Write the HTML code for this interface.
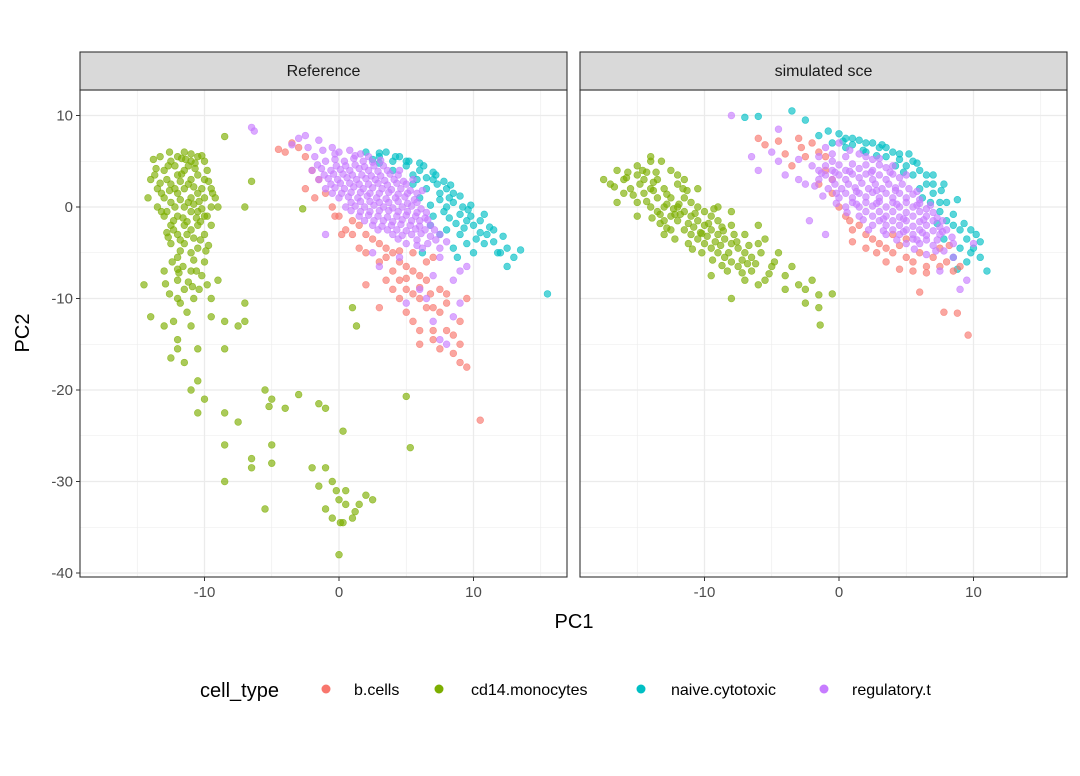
<!DOCTYPE html>
<html><head><meta charset="utf-8"><style>
body{margin:0;background:#fff;font-family:"Liberation Sans",sans-serif}
svg text{font-family:"Liberation Sans",sans-serif}
</style></head><body>
<svg id="chart" width="1080" height="771" viewBox="0 0 1080 771" xmlns="http://www.w3.org/2000/svg">
<rect width="1080" height="771" fill="#fff"/>
<g id="panels"></g>
<g id="points"></g>
<g id="frames"></g>
<text x="574" y="628" font-size="20" text-anchor="middle" fill="#000">PC1</text>
<text transform="translate(29,333) rotate(-90)" font-size="20" text-anchor="middle" fill="#000">PC2</text>
<g>
<text x="200" y="697" font-size="20" fill="#000">cell_type</text>
<circle cx="326" cy="689" r="4.5" fill="#F8766D"/>
<text x="354" y="695" font-size="16" fill="#000">b.cells</text>
<circle cx="439" cy="689" r="4.5" fill="#7CAE00"/>
<text x="471" y="695" font-size="16" fill="#000">cd14.monocytes</text>
<circle cx="641" cy="689" r="4.5" fill="#00BFC4"/>
<text x="671" y="695" font-size="16" fill="#000">naive.cytotoxic</text>
<circle cx="824" cy="689" r="4.5" fill="#C77CFF"/>
<text x="852" y="695" font-size="16" fill="#000">regulatory.t</text>
</g>
</svg>
<script>
const xTicks=[-10,0,10];
const xMinor=[-15,-5,5,15];
const yTicks=[10,0,-10,-20,-30,-40];
const yMinor=[5,-5,-15,-25,-35];
const panelTitles=["Reference","simulated sce"];

const refNaive=[[2,6],[3,5.5],[4,5],[5,4.5],[4.5,5.5],[6,4],[5.5,3.5],[7,3],[6.5,2],[7.5,1.5],[8,2],[8.5,0.5],[7.8,-0.5],[9,-0.8],[9.5,-1.5],[10,-2],[10.5,-2.8],[11,-3],[10.8,-4],[11.5,-3.8],[12,-5],[12.5,-4.5],[13,-5.5],[13.5,-4.7],[12.5,-6.5],[15.5,-9.5],[9.5,-4],[8.5,-4.5],[7,-1],[8,-2.5],[6,1],[6.8,0.2],[5.5,2.5],[4,4],[3,4.8],[6.5,3.2],[7.3,2.5],[8.2,1],[9.2,0],[9.8,-1],[10.2,-3.5],[11.2,-2.2],[9,-3],[8.8,-5.5],[11.8,-5],[10.5,-1.5],[5,5],[6,4.8],[7,3.8],[3.5,6],[2.5,5.2],[8,0],[8.7,-1.8],[7.5,-3],[6.2,-5],[9.3,-2.3],[10,-5],[7.8,2.8],[8.5,1.5],[9.6,-0.3],[5.8,3],[3,5.9],[4.2,5.5],[5.2,5],[6.3,4.5],[7.2,3.5],[8.3,2.4],[9,1.2],[9.8,0.2],[10.8,-0.8],[11.5,-2.5],[12.2,-3.2],[7.5,0.8],[6.8,-2],[8.2,-1.2]];
const refB=[[-4.5,6.3],[-4,6],[-3.5,7],[-3,6.5],[-2.5,5.5],[-2,4],[-1.5,3],[-1,1.5],[-0.5,0],[0,-1],[0.5,-2.5],[1,-3],[1.5,-2],[2,-3],[2.5,-3.5],[3,-4],[3.5,-4.5],[4,-5],[4.5,-6],[5,-6.5],[5.5,-7],[6,-7.5],[6.5,-8],[4,-7],[4.5,-8],[5,-9],[5.5,-9.5],[6,-10],[6.5,-11],[7,-11],[7.5,-11.5],[5,-11.5],[4.5,-10],[4,-9],[3.5,-8],[5.5,-12.5],[6,-13.5],[7,-13.5],[8,-13.5],[8.5,-14],[9,-15],[8.5,-16],[9,-17],[9.5,-17.5],[7.5,-15.5],[10.5,-23.3],[3,-11],[2,-8.5],[6,-15],[7,-14.5],[8,-9.5],[9,-12.5],[6.5,-6],[7,-5.5],[3,-6],[2,-5],[1.5,-4.5],[0.2,-3],[-0.3,-1],[1,-1.5],[5.5,-5],[8,-10.5],[9.5,-10],[7.5,-9],[-2.5,2],[-1.8,1],[3.5,-5.5],[4.5,-4.8],[5,-7.8],[6,-8.8],[6.8,-9.5]];
const refMono=[[-14,3],[-13.5,2],[-13,4],[-12.5,5],[-12,5.5],[-11.5,6],[-11,5],[-10.5,5.5],[-10,5],[-13.5,0],[-13,1],[-12.5,2.5],[-12,3.5],[-11.5,4],[-11,3],[-10.5,3.5],[-10,3],[-9.5,2],[-13,-1],[-12.5,0.5],[-12,1.5],[-11.5,2],[-11,1],[-10.5,1.5],[-10,1],[-9.5,0],[-12.5,-2],[-12,-1],[-11.5,0],[-11,-0.5],[-10.5,-0.5],[-10,-1],[-9.5,-2],[-12,-3],[-11.5,-2],[-11,-2.5],[-10.5,-2],[-10,-3],[-12.5,-4],[-11.5,-4],[-10.5,-4.5],[-11,-5],[-12,-5.5],[-10,-6],[-12.8,3],[-11.8,2.8],[-10.8,2.2],[-9.8,4],[-13.2,-0.5],[-12.2,0],[-11.2,0.5],[-10.2,-0.2],[-11.6,-1.2],[-10.6,-1.2],[-12.2,4.5],[-11.2,4.5],[-13.6,4.2],[-9.2,1],[-14.2,1],[-13.8,5.2],[-12.4,-6],[-11,-7],[-10.2,-7.5],[-12,-8],[-11.5,-9],[-10.8,-10],[-12.6,-9.5],[-11.3,-11.5],[-12.3,-12.5],[-11,-13],[-10.5,-15.5],[-12,-14.5],[-12.6,1.8],[-11.7,3.6],[-10.7,4.2],[-12.8,-2.8],[-11.8,-3.6],[-10.8,-3.4],[-9.7,-4.2],[-13.3,2.6],[-10.4,0.6],[-11.4,5.2],
[-13.7,3.5],[-12.7,4.5],[-11.7,5.3],[-10.7,4.8],[-9.7,2.8],[-13.2,1.5],[-12.2,2],[-11.2,2.5],[-10.2,2],[-9.4,1.5],[-12.8,-0.5],[-11.8,0.8],[-10.8,0.3],[-9.8,-1],[-12.3,-1.5],[-11.3,-1.6],[-10.3,-1.6],[-12.3,-2.5],[-11.3,-3],[-10.3,-3.6],[-11.8,-4.8],[-10.8,-5.8],[-11.6,-6.5],[-10.6,-7],[-11.2,-8.2],[-10.4,-9],[-12,-6.8],[-11.8,-10.5],[-13.3,5.5],[-12.6,6],[-11,5.8],[-10.2,5.6],[-9.9,-4.8],[-12.7,-3.3],[-11.9,-7.2],[-10.9,-8.7],[-9.8,-8.5],[-12.9,-8.4],
[-8.5,7.7],[-6.5,2.8],[-9,0],[-7,0],[-5.5,-20],[-5,-21],[-4,-22],[-3,-20.5],[-1.5,-21.5],[-1,-22],[0.3,-24.5],[-8.5,-22.5],[-7.5,-23.5],[-6.5,-27.5],[-6.5,-28.5],[-5,-26],[-5,-28],[-5.5,-33],[-8.5,-30],[-8.5,-26],[-2,-28.5],[-1,-28.5],[-0.5,-30],[-0.2,-31],[0,-32],[0.5,-32.5],[-0.5,-34],[0.1,-34.5],[0.3,-34.5],[1.5,-32.5],[1,-34],[1.2,-33.3],[-1,-33],[0,-38],[2,-31.5],[2.5,-32],[-1.5,-30.5],[0.5,-31],[-5.2,-21.8],[-2.7,-0.2],[1,-11],[1.3,-13],[5,-20.7],[5.3,-26.3],[-7,-10.5],[-7,-12.5],[-8.5,-12.5],[-7.5,-13],[-9,-8],[-8.5,-15.5],[-14,-12],[-14.5,-8.5],[-13,-13],[-12.5,-16.5],[-12,-15.5],[-11,-20],[-10.5,-22.5],[-10,-21],[-10.5,-19],[-11.5,-17],[-9.5,-10],[-12,-10],[-13,-7],[-9.5,-12]];
const refReg=[[0,6],[0.8,6.2],[1.6,5.8],[-0.5,6.5],[-1.5,7.3],[-2.5,7.8],[-3,7.5],[-6.5,8.7],[-6.3,8.3],[-3.5,6.8],[-1,5],[-0.3,5.2],[0.4,5],[1.1,5.3],[1.8,5],[2.5,4.9],[3.1,5.1],[-1.8,5.5],[-2,4],[-1.3,4.2],[-0.6,4],[0.1,4.1],[0.8,4],[1.5,4.2],[2.2,4],[2.9,3.9],[3.6,4],[-1.5,3],[-0.8,3.1],[-0.1,3],[0.6,3.2],[1.3,3],[2,3.1],[2.7,3],[3.4,2.9],[4.1,3],[4.8,2.8],[-1,2],[-0.3,2.1],[0.4,2],[1.1,2.2],[1.8,2],[2.5,2.1],[3.2,2],[3.9,1.9],[4.6,2],[5.3,1.8],[0,1],[0.7,1.1],[1.4,1],[2.1,1.2],[2.8,1],[3.5,0.9],[4.2,1],[4.9,1.1],[5.6,0.8],[0.5,0],[1.2,0.1],[1.9,0],[2.6,0.2],[3.3,0],[4,-0.1],[4.7,0],[5.4,0.1],[6.1,-0.2],[1.5,-1],[2.2,-0.9],[2.9,-1],[3.6,-1.1],[4.3,-1],[5,-0.9],[5.7,-1],[6.4,-1.2],[2.5,-2],[3.2,-2.1],[3.9,-2],[4.6,-1.9],[5.3,-2],[6,-2.1],[6.8,-2],[4,-3],[4.7,-3.1],[5.4,-3],[6.1,-2.9],[6.8,-3.2],[7.5,-3],[5,-4],[5.8,-4.2],[6.6,-4],[7.5,-4.5],[8,-3.8],[-1.6,4.6],[-0.2,4.5],[1.2,4.6],[2.6,4.5],[-1.1,3.5],[0.3,3.6],[1.7,3.5],[3.1,3.4],[4.4,3.5],[-0.6,2.5],[0.8,2.6],[2.2,2.5],[3.6,2.4],[5,2.5],[0.2,1.5],[1.6,1.6],[3,1.5],[4.4,1.4],[5.8,1.5],[0.9,0.5],[2.3,0.6],[3.7,0.5],[5.1,0.4],[1.6,-0.5],[3,-0.4],[4.4,-0.5],[5.8,-0.6],[2.6,-1.5],[4,-1.6],[5.4,-1.5],[6.6,-1.4],[3.6,-2.5],[5,-2.6],[6.4,-2.5],
[-0.3,5.8],[1.2,5.6],[2.2,5.5],[0.5,4.5],[1.9,4.4],[3.3,4.5],[-0.4,3.6],[1,3.5],[2.4,3.4],[3.8,3.6],[0.1,2.6],[1.5,2.5],[2.9,2.6],[4.3,2.6],[-0.5,1.5],[0.9,1.6],[2.3,1.5],[3.7,1.6],[5.1,1.5],[1.6,0.6],[3,0.5],[4.4,0.6],[5.8,0.5],[0.9,-0.4],[2.3,-0.5],[3.7,-0.4],[5.1,-0.5],[6.5,-0.6],[1.9,-1.5],[3.3,-1.5],[4.7,-1.4],[6,-1.5],[2.9,-2.5],[4.3,-2.5],[5.7,-2.4],[7.1,-2.5],[4.4,-3.5],[5.8,-3.6],[7.2,-3.6],[6.2,-4.5],[-2.3,6.5],[-1.2,6.2],[4.5,4],[5.5,3],[6.2,1.8],
[7,-7.5],[8.5,-8],[9,-7],[7.5,-5.5],[6,-9],[5,-10.5],[6.5,-10],[7,-12.5],[7.5,-14.5],[8,-15],[9.5,-6.5],[3,-6.5],[4.5,-5.5],[2.5,-5],[-1,-3],[9,-10.5],[8.5,-12]];

const simNaive=[[-7,9.8],[-6,9.9],[-3.5,10.5],[-2.5,9.5],[0,8],[0.5,7.5],[1.5,7.3],[2.5,7],[1,6.8],[3,6.5],[3.5,5.5],[4.5,5.2],[4,6],[5,4.5],[5.5,3.5],[6,4],[6.5,2.5],[6,2],[7,1.5],[7.5,0.5],[7.5,-0.5],[8,-1.5],[8.5,-2],[9,-2.5],[9.5,-3.5],[9,-4.5],[10,-4.5],[10.5,-5.5],[9.5,-6],[11,-7],[8.5,-5.5],[10.2,-3],[2,6],[3.5,6.5],[5.5,5],[6.5,3.5],[7,2.5],[8,0.5],[8.5,-0.8],[9.3,-1.8],[7.8,-3.5],[6.8,0.5],[4.8,3.8],[2.8,5.6],[1.8,6.2],[0.5,6.5],[-0.5,7],[-0.8,8.3],[6.2,1],[7.3,-1.8],[9.8,-5],[8.8,-6.8],[5.2,5.8],[4.2,4.5],[7.6,1.8],[1,7.5],[2,7],[3.2,6.8],[4.5,5.8],[5.8,4.8],[7,3.5],[7.8,2.5],[8.8,0.8],[9.8,-2.5],[10.5,-3.8],[-1.5,7.8],[0.3,7.2]];
const simB=[[-5.5,6.8],[-6,7.5],[-4.5,7.2],[-3,7.5],[-2,7],[-1.5,6],[-2.5,5.5],[-3.5,4.5],[-1,4],[-1.5,2.5],[-0.5,1.5],[0,0],[0.5,-1],[1,-2.5],[1.5,-2],[2,-3],[2.5,-3.5],[3,-4],[3.5,-4.5],[4,-5],[4.5,-4.2],[5,-5.5],[5.5,-6],[6,-5],[6.5,-6.5],[7,-5.5],[7.5,-6.5],[8,-6],[8.5,-7],[9,-6.5],[3.5,-6],[4.5,-6.8],[5.5,-7],[6,-9.3],[7.8,-11.5],[8.8,-11.6],[9.6,-14],[6.5,-7.2],[2,-4.5],[0.8,-1.5],[-0.5,3],[-1,5.5],[1,-3.8],[2.8,-5],[7.5,-4.5],[8.2,-4.2],[5,-3.5],[4,-3],[-4,5.8],[-2.8,6.5]];
const simMono=[[-17.5,3],[-17,2.5],[-16.5,4],[-16,3],[-16,1.5],[-15.5,2],[-15,4.5],[-15,0.5],[-14.5,3],[-14.5,1.5],[-14,2],[-14,0],[-14,5.5],[-13.5,3],[-13.5,1],[-13.5,-0.5],[-13,2],[-13,0],[-13,-1.5],[-12.5,1],[-12.5,-1],[-12.5,-2.5],[-12,2.5],[-12,0],[-12,-1.5],[-11.5,1],[-11.5,-0.5],[-11.5,-2.5],[-11,-1],[-11,-3],[-11,0.5],[-10.5,-1.5],[-10.5,-3.5],[-10.5,0],[-10,-2],[-10,-4],[-10,-0.5],[-9.5,-2.5],[-9.5,-4.5],[-9.5,-1],[-9,-3],[-9,-5],[-9,-1.5],[-8.5,-3.5],[-8.5,-5.5],[-8,-4],[-8,-6],[-8,-2],[-7.5,-4.5],[-7.5,-6.5],[-7,-5],[-7,-3],[-6.5,-5.5],[-6,-4],[-6.5,-7],[-5,-6.5],[-4.5,-5],[-5.5,-8],[-6,-8.5],[-7,-8],[-4,-7.5],[-3,-8.5],[-2.5,-9],[-2,-8],[-1.5,-9.6],[-2.5,-10.5],[-1.5,-11],[-1.4,-12.9],[-0.5,-9.5],[-4,-9],[-8,-10],[-9.5,-7.5],[-13,-3],[-15,-1],[-16.5,0.5],[-14,5],[-12.5,4],[-11.5,3],[-10.5,2],[-9,0],[-8,-0.5],[-6,-2],[-13.8,1.8],[-12.8,0.3],[-11.8,-0.8],[-10.8,-2.2],[-9.8,-3.2],[-8.8,-4.2],[-14.8,2.5],[-15.8,3.2],[-12.2,-3.5],[-11.2,-4],[-10.2,-5],[-8.3,-7],[-7.2,-7.2],[-3.5,-6.5],[-5.5,-3.5],[-13.2,5],[-12,3.5],[-14.3,3.8],[-13.3,-1.8],[-12.3,-0.2],[-11.3,1.8],[-10.3,-2.8],[-9.3,-0.2],[-8.6,-2.6],[-7.6,-3.8],[-6.8,-6.2],
[-16.7,2.2],[-15.7,3.8],[-15.3,1.3],[-14.3,0.6],[-13.8,2.7],[-12.8,1.4],[-12.2,-0.8],[-11.2,-1.8],[-10.7,-0.7],[-10.2,-2.9],[-9.7,-1.8],[-9.2,-3.8],[-8.7,-2.2],[-8.2,-5],[-7.8,-3],[-7.2,-5.8],[-6.7,-4.2],[-6.2,-6.2],[-5.8,-5],[-5.2,-7.3],[-4.8,-6],[-13.6,3.8],[-14.6,4],[-11.6,2],[-10.9,-4.6],[-12.8,-2.3],[-13.9,-1.2],[-9.4,-5.8],[-8.7,-6.4],[-15,3.5],[-13.3,-0.8],[-11.9,0.3]];
const simReg=[[-8,10],[-4.5,8.5],[-5,6],[-6.5,5.5],[-6,4],[-3,3],[-2.5,2.5],[-4,3.5],[9,-9],[7.5,-7],[9.5,-8],[10,-4],[-1,6.5],[0,7],[-0.5,5],[0.5,5.5],[1.5,5.8],[2.5,5.2],[-1.5,4],[-0.5,4],[0.5,4],[1.5,4.2],[2.5,4],[3.5,4.3],[-1.5,3],[-0.5,3],[0.5,3],[1.5,3.2],[2.5,3],[3.5,3],[4.5,3.2],[-0.8,2],[0.2,2],[1.2,2.1],[2.2,2],[3.2,2],[4.2,2.1],[5.2,2],[0,1],[1,1],[2,1.1],[3,1],[4,1],[5,1],[6,0.8],[0.5,0],[1.5,0],[2.5,0.1],[3.5,0],[4.5,0],[5.5,0],[6.5,-0.2],[1.5,-1],[2.5,-1],[3.5,-1],[4.5,-1.1],[5.5,-1],[6.5,-1],[7.3,-1.2],[2.5,-2],[3.5,-2],[4.5,-2],[5.5,-2.1],[6.5,-2],[7.5,-2.2],[3.5,-3],[4.5,-3],[5.5,-3],[6.5,-3.1],[7.5,-3],[8,-2.5],[5,-4],[6,-4],[7,-4.2],[8.5,-4],[-1,4.5],[0,4.6],[1,4.7],[2,4.6],[3,4.6],[-1,3.5],[0,3.5],[1,3.6],[2,3.6],[3,3.5],[4,3.6],[-0.3,2.5],[0.7,2.5],[1.7,2.6],[2.7,2.5],[3.7,2.5],[4.7,2.5],[0.5,1.5],[1.5,1.5],[2.5,1.6],[3.5,1.5],[4.5,1.5],[5.5,1.4],[1,0.5],[2,0.5],[3,0.6],[4,0.5],[5,0.5],[6,0.4],[2,-0.5],[3,-0.5],[4,-0.5],[5,-0.6],[6,-0.5],[7,-0.6],[3,-1.5],[4,-1.5],[5,-1.5],[6,-1.6],[7,-1.5],[4,-2.5],[5,-2.5],[6,-2.5],[7,-2.6],[5.5,-3.5],[6.5,-3.6],[-1.5,5.5],[-2,4.5],[-3,5.2],[7.8,-4.8],[6.5,-5.2],[-2.2,-1.5],[-1,-3],[8.5,-5.5],[-4.5,5],
[-0.5,5.8],[0.8,6.2],[2,5.5],[3,5.3],[4,4.5],[-1.3,3.7],[-0.3,3.8],[0.8,3.9],[2.4,3.8],[3.8,3.8],[5,3.5],[-1.8,2.3],[-1.2,1.2],[-0.2,1.5],[1.3,1.7],[2.8,1.8],[4.2,1.8],[5.8,1.7],[-0.2,0.4],[1.3,0.3],[2.8,0.4],[4.3,0.3],[5.8,0.2],[6.8,0.2],[0.6,-0.6],[1.8,-1.4],[3.3,-1.3],[4.8,-1.3],[6.3,-1.4],[7.7,-1.5],[2.2,-2.5],[3.3,-2.6],[4.8,-2.7],[6.2,-2.8],[7.7,-2.7],[4.3,-3.6],[5.8,-3.6],[7.3,-3.6],[8.4,-3.3],[5.6,-4.6],[7.2,-4.8]];

const NS="http://www.w3.org/2000/svg";
const panels=[{x0:80,off:0},{x0:580,off:500}];
const PW=487, PT=90, PB=577;
function sx(v,p){return 339+p.off+v*13.45;}
function sy(v){return 207-v*9.15;}
function mk(tag,attrs,parent){const e=document.createElementNS(NS,tag);for(const k in attrs)e.setAttribute(k,attrs[k]);parent.appendChild(e);return e;}
const gP=document.getElementById('panels'),gPts=document.getElementById('points'),gF=document.getElementById('frames');
panels.forEach((p,i)=>{
  const bg=mk('rect',{x:p.x0,y:PT,width:PW,height:PB-PT,fill:'#fff'},gP);
  
  
  xMinor.forEach(v=>{const l=mk('line',{x1:sx(v,p),x2:sx(v,p),y1:PT,y2:PB,stroke:'#ebebeb','stroke-width':0.6},gP);
    
    });
  yMinor.forEach(v=>{const l=mk('line',{x1:p.x0,x2:p.x0+PW,y1:sy(v),y2:sy(v),stroke:'#ebebeb','stroke-width':0.6},gP);
    
    });
  xTicks.forEach(v=>{const l=mk('line',{x1:sx(v,p),x2:sx(v,p),y1:PT,y2:PB,stroke:'#ebebeb','stroke-width':1.3},gP);
    
    
    mk('line',{x1:sx(v,p),x2:sx(v,p),y1:PB,y2:PB+4,stroke:'#333','stroke-width':1},gF);
    const t=mk('text',{x:sx(v,p),y:PB+20,'font-size':15,'text-anchor':'middle',fill:'#4d4d4d'},gF);t.textContent=v;
    
    });
  yTicks.forEach(v=>{const l=mk('line',{x1:p.x0,x2:p.x0+PW,y1:sy(v),y2:sy(v),stroke:'#ebebeb','stroke-width':1.3},gP);
    
    
    if(i===0){mk('line',{x1:p.x0-4,x2:p.x0,y1:sy(v),y2:sy(v),stroke:'#333','stroke-width':1},gF);
      const t=mk('text',{x:p.x0-7,y:sy(v)+5,'font-size':15,'text-anchor':'end',fill:'#4d4d4d'},gF);t.textContent=v;
      
      }});
  const fr=mk('rect',{x:p.x0,y:PT,width:PW,height:PB-PT,fill:'none',stroke:'#333','stroke-width':1.1},gF);
  
  
  const st=mk('rect',{x:p.x0,y:52,width:PW,height:PT-52,fill:'#d9d9d9',stroke:'#333','stroke-width':1.1},gF);
  
  
  const tt=mk('text',{x:p.x0+PW/2,y:76,'font-size':16,'text-anchor':'middle',fill:'#1a1a1a'},gF);tt.textContent=panelTitles[i];
  
  
});
function drawPts(arr,p,color,name){
  arr.forEach(d=>{const c=mk('circle',{cx:sx(d[0],p),cy:sy(d[1]),r:3.4,fill:color,'fill-opacity':0.65,stroke:color,'stroke-opacity':0.7,'stroke-width':0.6},gPts);
    
    });
}
drawPts(refNaive,panels[0],'#00BFC4','point-naive-cytotoxic');
drawPts(refB,panels[0],'#F8766D','point-b-cells');
drawPts(refMono,panels[0],'#7CAE00','point-cd14-monocytes');
drawPts(refReg,panels[0],'#C77CFF','point-regulatory-t');
drawPts(simNaive,panels[1],'#00BFC4','point-naive-cytotoxic');
drawPts(simB,panels[1],'#F8766D','point-b-cells');
drawPts(simMono,panels[1],'#7CAE00','point-cd14-monocytes');
drawPts(simReg,panels[1],'#C77CFF','point-regulatory-t');
</script>
</body></html>
